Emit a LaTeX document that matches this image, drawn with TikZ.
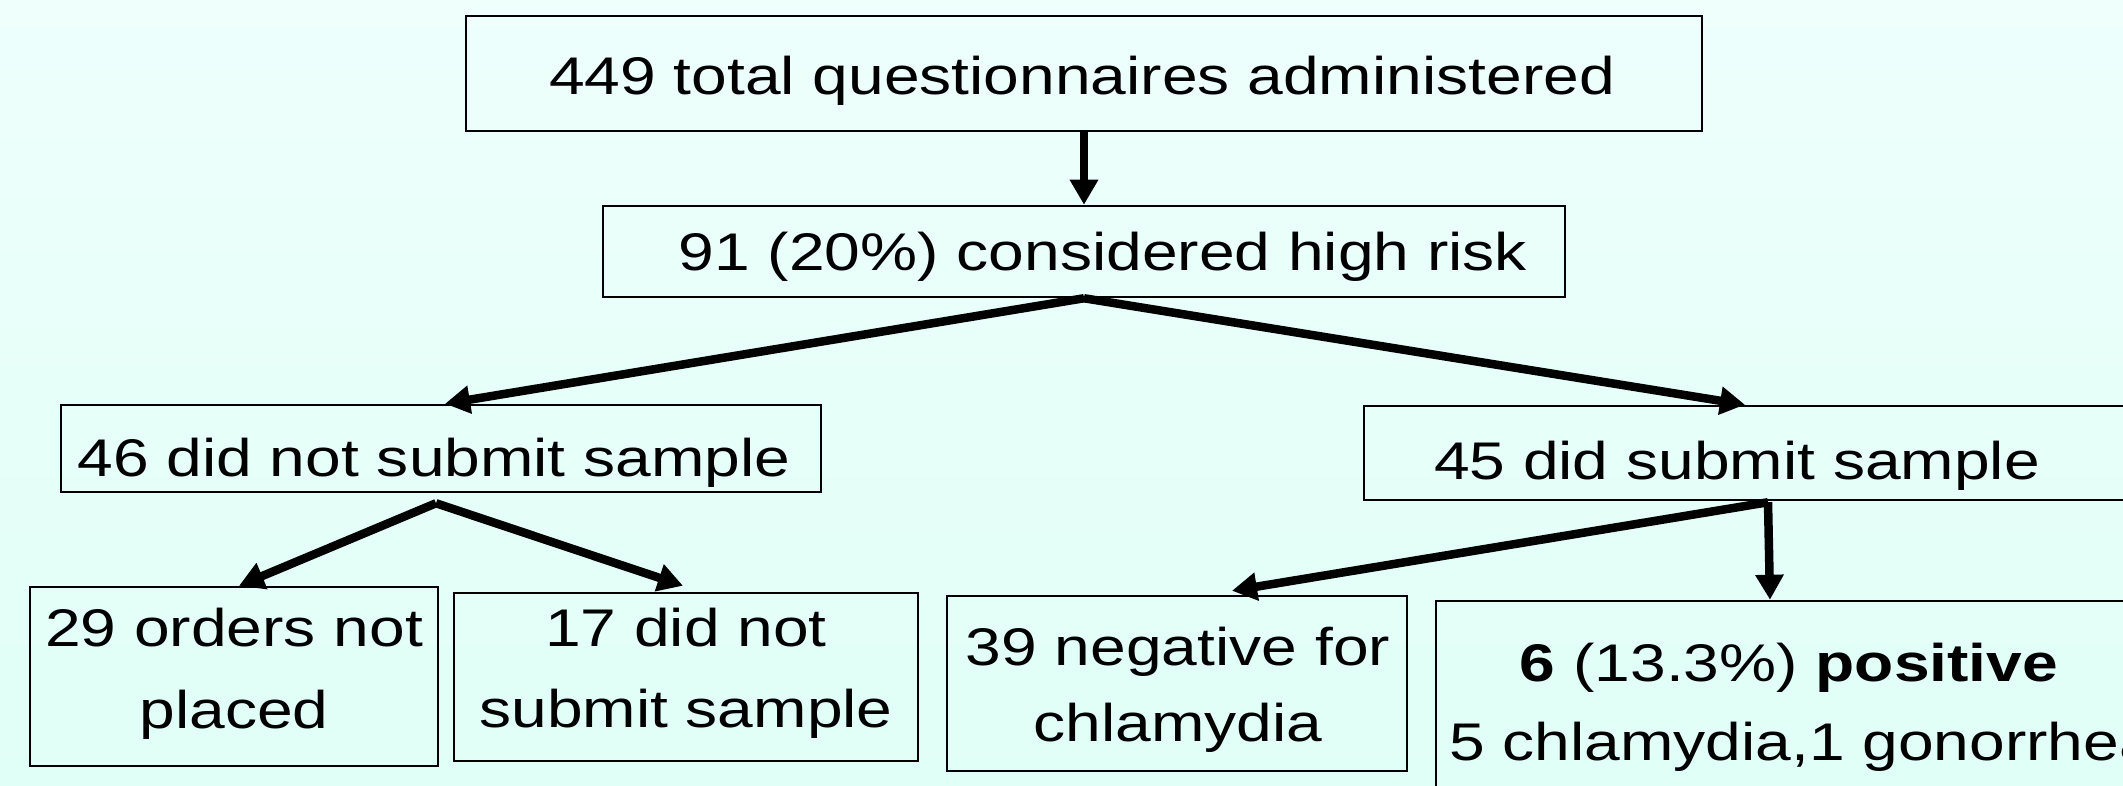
\documentclass[tikz,border=0pt]{standalone}
\usepackage{fontspec}
\setmainfont{Liberation Sans}[FakeStretch=1.21]
\usetikzlibrary{arrows.meta}
\definecolor{bgtop}{RGB}{238,255,252}
\definecolor{bgbot}{RGB}{224,255,246}
\tikzset{
  box/.style={draw=black, line width=2.5pt, inner sep=0pt, rectangle},
  lbl/.style={anchor=base, inner sep=0pt, font=\fontsize{53}{63}\selectfont},
  arr/.style={line width=8.5pt, -{Triangle[length=25pt,width=27pt]}},
}
\begin{document}
\begin{tikzpicture}[x=1pt,y=1pt]
\useasboundingbox (0,0) rectangle (2123,785);
\clip (0,0) rectangle (2123,785);
\shade[top color=bgtop, bottom color=bgbot] (0,0) rectangle (2123,785);

% boxes
\node[box, minimum width=1236pt, minimum height=115pt] (b1) at (1084,711.5) {};
\node[box, minimum width=962pt, minimum height=91pt] (b2) at (1084,533.5) {};
\node[box, minimum width=760pt, minimum height=87pt] (b3) at (441,336.5) {};
\node[box, minimum width=786pt, minimum height=94pt] (b4) at (1757,332) {};
\node[box, minimum width=408pt, minimum height=179pt] (b5) at (234,108.5) {};
\node[box, minimum width=464pt, minimum height=168pt] (b6) at (686,108) {};
\node[box, minimum width=460pt, minimum height=175pt] (b7) at (1177,101.5) {};
\node[box, minimum width=714pt, minimum height=209pt] (b8) at (1793,79.5) {};

% texts
\node[lbl] (t1) at (1082,690.7) {449 total questionnaires administered};
\node[lbl] (t2) at (1103,514.3) {91 (20\%) considered high risk};
\node[lbl] (t3) at (434,308.3) {46 did not submit sample};
\node[lbl] (t4) at (1737,305) {45 did submit sample};
\node[lbl] (t5a) at (234,138.3) {29 orders not};
\node[lbl] (t5b) at (234,57) {placed};
\node[lbl] (t6a) at (686,138.3) {17 did not};
\node[lbl] (t6b) at (686,58) {submit sample};
\node[lbl] (t7a) at (1178,120) {39 negative for};
\node[lbl] (t7b) at (1178,43.3) {chlamydia};
\node[lbl] (t8a) at (1789,103.3) {\textbf{6} (13.3\%) \textbf{positive}};
\node[lbl, anchor=base west] (t8b) at (1449,25) {5 chlamydia,1 gonorrhea};

% connectors
\draw[arr] (b1.south) -- (b2.north);
\draw[arr] (b2.south) -- ([xshift=4pt]b3.north);
\draw[arr] (b2.south) -- ([xshift=-12pt]b4.north);
\draw[arr] ([xshift=-5pt,yshift=-10pt]b3.south) -- ([xshift=5pt]b5.north);
\draw[arr] ([xshift=-5pt,yshift=-10pt]b3.south) -- ([xshift=-3pt,yshift=6pt]b6.north);
\draw[arr] ([xshift=11pt,yshift=-1pt]b4.south) -- ([xshift=55pt,yshift=4pt]b7.north);
\draw[arr] ([xshift=11pt,yshift=-1pt]b4.south) -- ([xshift=-23pt]b8.north);
\end{tikzpicture}
\end{document}
